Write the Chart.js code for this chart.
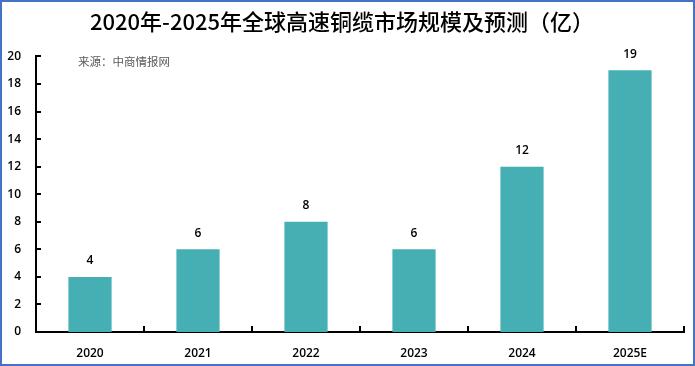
<!DOCTYPE html>
<html>
<head>
<meta charset="utf-8">
<script src="https://cdn.jsdelivr.net/npm/chart.js@4"></script>
<style>
    html, body { margin: 0; padding: 0; background: #fff; }
    #wrap {
        position: absolute; left: 0; top: 0;
        width: 691px; height: 362px;
        border: 2px solid #4472C4;
        box-sizing: content-box;
    }
    #outer { position: relative; width: 695px; height: 366px; }
    canvas { position: absolute; left: 0; top: 0; }
</style>
</head>
<body>
<div id="outer">
    <canvas id="marketChart" width="695" height="366"></canvas>
    <div id="wrap"></div>
</div>
<script>
var years = ['2020', '2021', '2022', '2023', '2024', '2025E'];
var marketSize = [4, 6, 8, 6, 12, 19];
var yTicks = [0, 2, 4, 6, 8, 10, 12, 14, 16, 18, 20];
var chartTitle = '2020年-2025年全球高速铜缆市场规模及预测（亿）';
var sourceNote = '来源：中商情报网';

var labelFont = '600 12px "Open Sans", "Noto Sans", sans-serif';

// inward tick marks, value labels and source note
var extras = {
    id: 'extras',
    afterDraw: function (chart) {
        var ctx = chart.ctx;
        var x = chart.scales.x;
        var y = chart.scales.y;
        var area = chart.chartArea;
        ctx.save();
        ctx.strokeStyle = '#000';
        ctx.lineWidth = 2;
        ctx.beginPath();
        yTicks.forEach(function (v) {
            var py = Math.round(y.getPixelForValue(v));
            ctx.moveTo(area.left, py);
            ctx.lineTo(area.left + 5, py);
        });
        for (var i = 1; i <= years.length; i++) {
            var px = Math.round((x.getPixelForValue(i - 1) + x.getPixelForValue(Math.min(i, years.length - 1))) / 2);
            if (i === years.length) px = area.right;
            ctx.moveTo(px, area.bottom);
            ctx.lineTo(px, area.bottom - 6);
        }
        ctx.stroke();

        ctx.fillStyle = '#000';
        ctx.font = labelFont;
        ctx.textAlign = 'center';
        ctx.textBaseline = 'bottom';
        chart.getDatasetMeta(0).data.forEach(function (bar, i) {
            ctx.fillText(String(marketSize[i]), bar.x, bar.y - 10);
        });

        ctx.fillStyle = '#595959';
        ctx.font = '11.5px "Noto Sans CJK SC", sans-serif';
        ctx.textAlign = 'left';
        ctx.textBaseline = 'middle';
        ctx.fillText(sourceNote, 78, 62);
        ctx.restore();
    }
};

var marketChart = new Chart(document.getElementById('marketChart').getContext('2d'), {
    type: 'bar',
    data: {
        labels: years,
        datasets: [{
            data: marketSize,
            backgroundColor: '#46AFB3',
            barPercentage: 0.4,
            categoryPercentage: 1
        }]
    },
    options: {
        responsive: false,
        animation: false,
        layout: {
            padding: { left: 0, right: 11, top: 0, bottom: 0 }
        },
        scales: {
            x: {
                grid: { display: false, drawTicks: false },
                border: { display: true, color: '#000', width: 2 },
                ticks: {
                    color: '#000',
                    padding: 14,
                    font: { family: '"Open Sans", "Noto Sans", sans-serif', size: 12, weight: '600' }
                },
                afterFit: function (scale) { scale.height = 34; }
            },
            y: {
                min: 0,
                max: 20,
                grid: { display: false, drawTicks: false },
                border: { display: true, color: '#000', width: 2 },
                ticks: {
                    stepSize: 2,
                    color: '#000',
                    padding: 15,
                    font: { family: '"Open Sans", "Noto Sans", sans-serif', size: 12, weight: '600' }
                },
                afterFit: function (scale) { scale.width = 36; }
            }
        },
        plugins: {
            legend: { display: false },
            tooltip: { enabled: false },
            title: {
                display: true,
                text: chartTitle,
                color: '#000',
                padding: { top: 8, bottom: 22 },
                font: { family: '"Noto Sans CJK SC", sans-serif', size: 22, weight: '500' }
            }
        }
    },
    plugins: [extras]
});
</script>
</body>
</html>
